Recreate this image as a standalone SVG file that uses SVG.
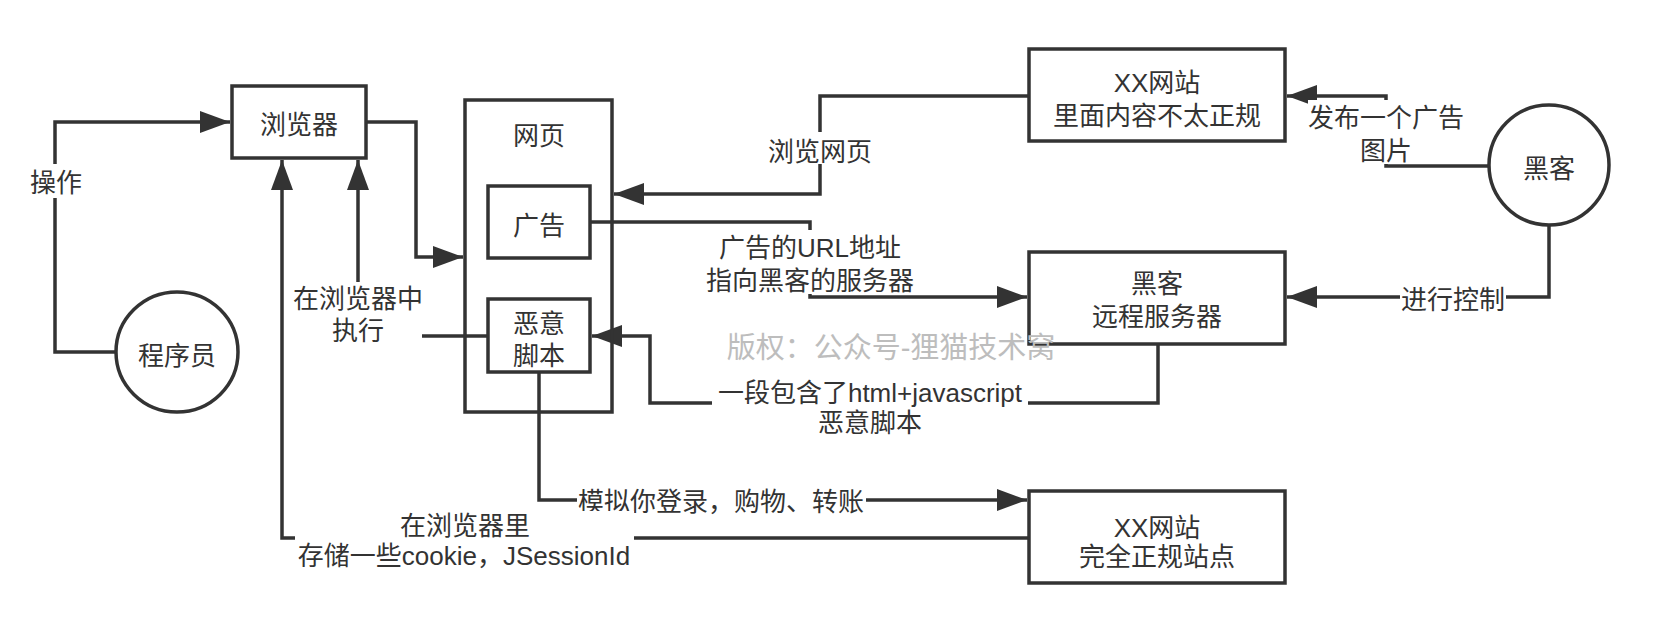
<svg xmlns="http://www.w3.org/2000/svg" width="1660" height="634" viewBox="0 0 1660 634">
<style>
.n{fill:#fff;stroke:#333;stroke-width:3.5}
.c{fill:none;stroke:#333;stroke-width:3.5}
.bg{fill:#fff;stroke:none}
text{font-family:"Liberation Sans","Noto Sans CJK SC",sans-serif;font-size:26px;fill:#333;text-anchor:middle}
.wm{font-size:29px;fill:#bdbdbd}
</style>
<defs>
<marker id="a" markerUnits="userSpaceOnUse" markerWidth="32" markerHeight="24" refX="30" refY="11" orient="auto">
<path d="M0,0 L30,11 L0,22 z" fill="#333"/>
</marker>
</defs>
<rect width="1660" height="634" fill="#fff"/>
<g id="connectors">
<path class="c" d="M116,352 H55 V122 H230" marker-end="url(#a)"/>
<path class="c" d="M366,122 H416 V257 H463" marker-end="url(#a)"/>
<path class="c" d="M488,336 H358 V160" marker-end="url(#a)"/>
<path class="c" d="M1029,538 H282 V160" marker-end="url(#a)"/>
<path class="c" d="M1029,96 H820 V194 H614" marker-end="url(#a)"/>
<path class="c" d="M590,222 H810 V297 H1027" marker-end="url(#a)"/>
<path class="c" d="M1158,344 V403 H650 V336 H592" marker-end="url(#a)"/>
<path class="c" d="M539,372 V500 H1027" marker-end="url(#a)"/>
<path class="c" d="M1488,166 H1386 V96 H1287" marker-end="url(#a)"/>
<path class="c" d="M1549,225 V297 H1287" marker-end="url(#a)"/>
<rect class="bg" x="30" y="164" width="52" height="34"/>
<text x="56" y="192">操作</text>
<rect class="bg" x="294" y="282" width="128" height="66"/>
<text x="358" y="308">在浏览器中</text>
<text x="358" y="340">执行</text>
<rect class="bg" x="768" y="132" width="104" height="32"/>
<text x="820" y="161">浏览网页</text>
<rect class="bg" x="705" y="230" width="210" height="64"/>
<text x="810" y="257">广告的URL地址</text>
<text x="810" y="290">指向黑客的服务器</text>
<rect class="bg" x="712" y="378" width="316" height="58"/>
<text x="870" y="402">一段包含了html+javascript</text>
<text x="870" y="432">恶意脚本</text>
<rect class="bg" x="1308" y="100" width="157" height="64"/>
<text x="1386" y="127">发布一个广告</text>
<text x="1386" y="160">图片</text>
<rect class="bg" x="1400" y="283" width="106" height="30"/>
<text x="1453" y="309">进行控制</text>
<rect class="bg" x="577" y="486" width="289" height="30"/>
<text x="721" y="511">模拟你登录，购物、转账</text>
<rect class="bg" x="295" y="511" width="339" height="60"/>
<text x="465" y="535">在浏览器里</text>
<text x="464" y="565">存储一些cookie，JSessionId</text>
</g>
<g id="browser">
<rect class="n" x="232" y="86" width="134" height="72"/>
<text x="299" y="134">浏览器</text>
</g>
<g id="webpage">
<rect class="n" x="465" y="100" width="147" height="312" style="fill:none"/>
<text x="539" y="145">网页</text>
</g>
<g id="ad">
<rect class="n" x="488" y="186" width="102" height="72"/>
<text x="539" y="235">广告</text>
</g>
<g id="script">
<rect class="n" x="488" y="299" width="102" height="73"/>
<text x="539" y="333">恶意</text>
<text x="539" y="365">脚本</text>
</g>
<g id="programmer">
<ellipse class="n" cx="177" cy="352" rx="61" ry="60"/>
<text x="177" y="365">程序员</text>
</g>
<g id="site-bad">
<rect class="n" x="1029" y="49" width="256" height="92"/>
<text x="1157" y="92">XX网站</text>
<text x="1157" y="125">里面内容不太正规</text>
</g>
<g id="hacker-server">
<rect class="n" x="1029" y="252" width="256" height="92"/>
<text x="1157" y="293">黑客</text>
<text x="1157" y="326">远程服务器</text>
</g>
<g id="site-good">
<rect class="n" x="1029" y="491" width="256" height="92"/>
<text x="1157" y="537">XX网站</text>
<text x="1157" y="566">完全正规站点</text>
</g>
<g id="hacker">
<circle class="n" cx="1549" cy="165" r="60"/>
<text x="1549" y="178">黑客</text>
</g>
<text class="wm" x="891" y="358">版权：公众号-狸猫技术窝</text>
</svg>
